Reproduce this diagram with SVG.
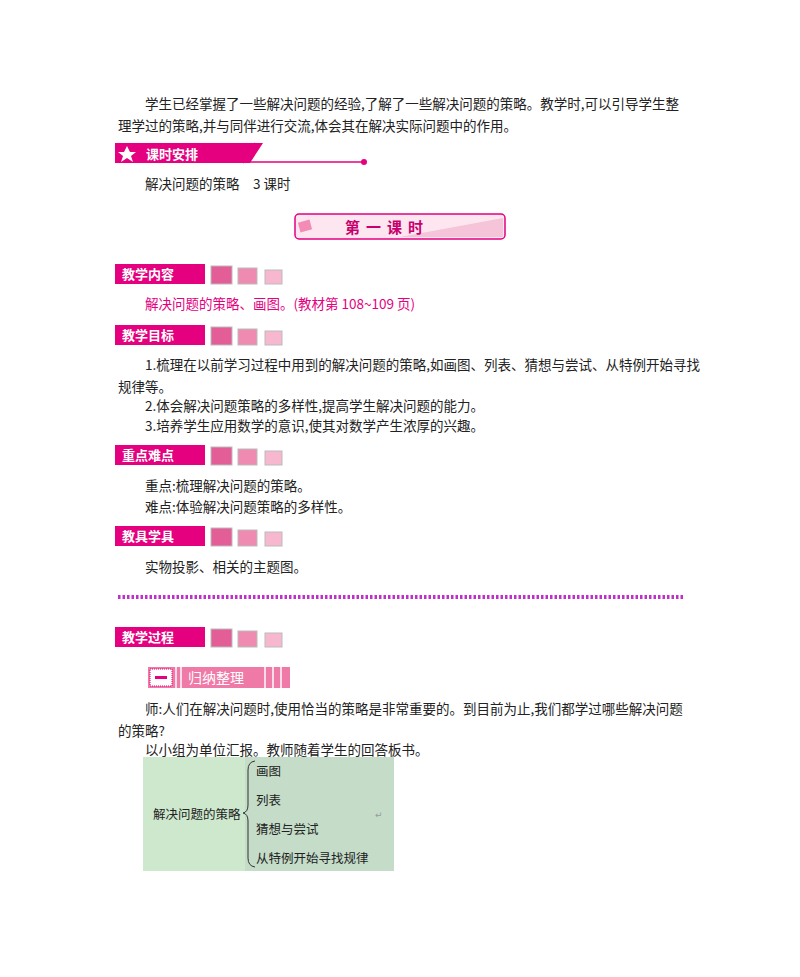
<svg xmlns="http://www.w3.org/2000/svg" width="800" height="977" viewBox="0 0 800 977">
<style>
.t{font-family:"Noto Sans CJK SC","Liberation Sans",sans-serif;font-size:13.5px;fill:#222}
.p{fill:#e4007f}
.lab{font-family:"Noto Sans CJK SC",sans-serif;font-size:13px;fill:#fff;font-weight:bold}
.d{font-family:"Noto Sans CJK SC",sans-serif;font-size:12.5px;fill:#222}
</style>
<defs>
<g id="sq"><rect x="96" y="2" width="21" height="18" fill="#e35d97" stroke="#bbb" stroke-width="1"/><rect x="123" y="4" width="19" height="16" fill="#ef8bb1" stroke="#bbb"/><rect x="150" y="6" width="17" height="14" fill="#f6b7cf" stroke="#bbb"/></g>
</defs>
<rect width="800" height="977" fill="#fff"/>
<text class="t" x="145" y="109">学生已经掌握了一些解决问题的经验,了解了一些解决问题的策略。教学时,可以引导学生整</text>
<text class="t" x="118" y="131">理学过的策略,并与同伴进行交流,体会其在解决实际问题中的作用。</text>
<g id="h1">
<polygon points="115,143 263,143 250,163 115,163" class="p"/>
<polygon points="127,146 130,152 136,152 131,156 133,162 127,158 121,162 123,156 118,152 124,152" fill="#fff"/>
<text x="146" y="159" class="lab" font-size="15">课时安排</text>
<line x1="243" y1="163" x2="255" y2="143" stroke="#e4007f" stroke-width="1.5"/>
<line x1="250" y1="162" x2="364" y2="162" stroke="#e4007f" stroke-width="1.5"/>
<circle cx="364" cy="162" r="3" class="p"/>
</g>
<text class="t" x="145" y="189">解决问题的策略　3 课时</text>
<g id="h2">
<rect x="295" y="214" width="210" height="25" rx="4" fill="#fde6ef" stroke="#e4007f" stroke-width="1.5"/>
<rect x="299" y="221" width="12" height="10" fill="#f28cb6" transform="rotate(-15 305 226)"/>
<polygon points="400,237 503,218 503,237" fill="#f6c4d8"/>
<text x="345" y="233" font-family="Noto Sans CJK SC,sans-serif" font-size="15" font-weight="bold" fill="#c8006e" letter-spacing="6">第一课时</text>
</g>
<g id="s1" transform="translate(115,264)"><rect width="90" height="20" class="p"/><text class="lab" x="7" y="15">教学内容</text><use href="#sq"/></g>
<text class="t" x="145" y="309" fill="#e4007f" style="fill:#e4007f">解决问题的策略、画图。(教材第 108~109 页)</text>
<g id="s2" transform="translate(115,325)"><rect width="90" height="20" class="p"/><text class="lab" x="7" y="15">教学目标</text><use href="#sq"/></g>
<text class="t" x="145" y="370">1.梳理在以前学习过程中用到的解决问题的策略,如画图、列表、猜想与尝试、从特例开始寻找</text>
<text class="t" x="118" y="392">规律等。</text>
<text class="t" x="145" y="411">2.体会解决问题策略的多样性,提高学生解决问题的能力。</text>
<text class="t" x="145" y="431">3.培养学生应用数学的意识,使其对数学产生浓厚的兴趣。</text>
<g id="s3" transform="translate(115,445)"><rect width="90" height="20" class="p"/><text class="lab" x="7" y="15">重点难点</text><use href="#sq"/></g>
<text class="t" x="145" y="491">重点:梳理解决问题的策略。</text>
<text class="t" x="145" y="512">难点:体验解决问题策略的多样性。</text>
<g id="s4" transform="translate(115,526)"><rect width="90" height="20" class="p"/><text class="lab" x="7" y="15">教具学具</text><use href="#sq"/></g>
<text class="t" x="145" y="572">实物投影、相关的主题图。</text>
<line x1="118" y1="597" x2="684" y2="597" stroke="#c030c8" stroke-width="4" stroke-dasharray="2.5 2"/>
<g id="s5" transform="translate(115,627)"><rect width="90" height="20" class="p"/><text class="lab" x="7" y="15">教学过程</text><use href="#sq"/></g>
<g id="h3">
<rect x="148" y="667" width="142" height="21" fill="#ef7aa8"/>
<rect x="150" y="669" width="22" height="17" fill="#fff" stroke="#e4007f" stroke-dasharray="1 1"/>
<rect x="155" y="676" width="12" height="3" fill="#e4007f"/>
<line x1="176" y1="667" x2="176" y2="688" stroke="#fff" stroke-width="1.5"/>
<line x1="181" y1="667" x2="181" y2="688" stroke="#fff" stroke-width="1.5"/>
<line x1="265" y1="667" x2="265" y2="688" stroke="#fff" stroke-width="1.5"/>
<line x1="273" y1="667" x2="273" y2="688" stroke="#fff" stroke-width="1.5"/>
<line x1="281" y1="667" x2="281" y2="688" stroke="#fff" stroke-width="1.5"/>
<text x="188" y="683" font-family="Noto Sans CJK SC,sans-serif" font-size="14" fill="#fff">归纳整理</text>
</g>
<text class="t" x="145" y="714">师:人们在解决问题时,使用恰当的策略是非常重要的。到目前为止,我们都学过哪些解决问题</text>
<text class="t" x="118" y="736">的策略?</text>
<text class="t" x="145" y="755">以小组为单位汇报。教师随着学生的回答板书。</text>
<g id="pic">
<rect x="143" y="757" width="251" height="114" fill="#cde8cd"/>
<rect x="245" y="757" width="149" height="114" fill="#c4dcc8"/>
<text class="d" x="153" y="819">解决问题的策略</text>
<path d="M255,761 Q248,762 248,770 L248,805 Q248,812 243,813 Q248,814 248,821 L248,858 Q248,866 255,867" fill="none" stroke="#333" stroke-width="1"/>
<text class="d" x="256" y="776">画图</text>
<text class="d" x="256" y="805">列表</text>
<text class="d" x="256" y="834">猜想与尝试</text>
<text class="d" x="256" y="863">从特例开始寻找规律</text>
<text x="375" y="818" font-family="DejaVu Sans,sans-serif" font-size="9" fill="#999">↵</text>
</g>
</svg>
